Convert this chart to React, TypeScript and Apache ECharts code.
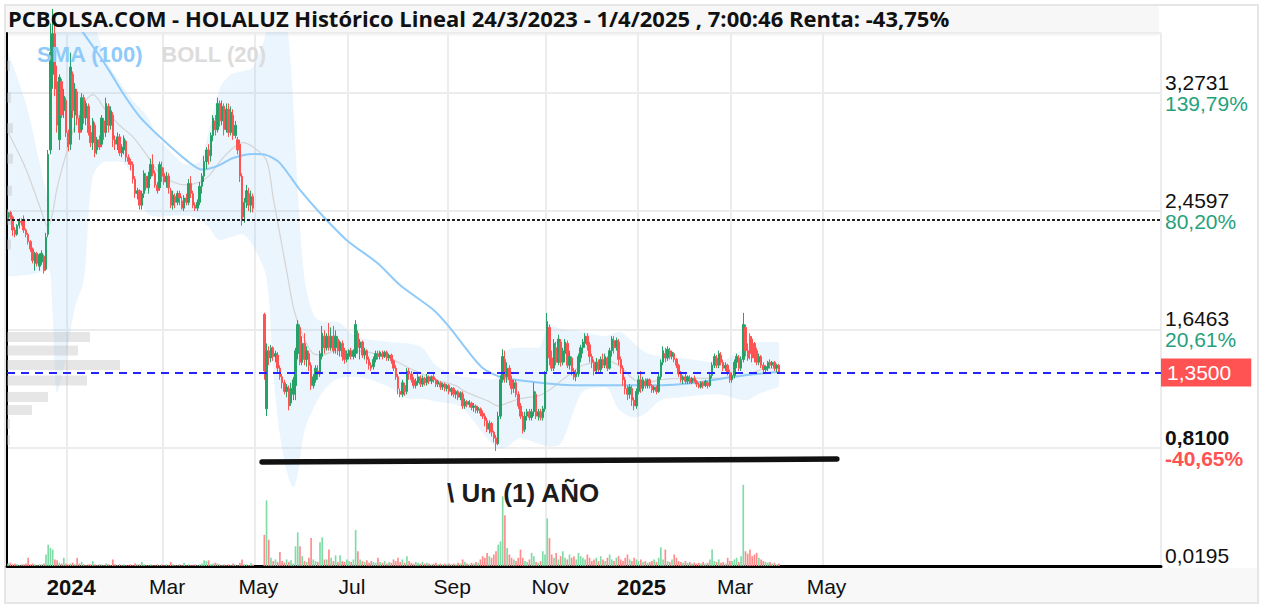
import React, { useEffect, useRef } from 'react';
import * as echarts from 'echarts';

// ---------- categories (trading days) ----------
const START_UTC = Date.UTC(2023, 10, 21);
const CATEGORY_COUNT = 518;
const LAST_LABEL_DATE = '2025-05-31';
const HOLIDAYS = ['2023-12-25', '2023-12-26', '2024-01-01', '2024-03-29', '2024-04-01', '2024-05-01',
  '2024-12-25', '2024-12-26', '2025-01-01', '2025-04-18', '2025-04-21', '2025-05-01', '2025-12-25', '2025-12-26'];
const MONTHS = ['Ene', 'Feb', 'Mar', 'Abr', 'May', 'Jun', 'Jul', 'Ago', 'Sep', 'Oct', 'Nov', 'Dic'];

// ---------- daily candles [open, close, low, high] ----------
const ohlcNovDec2023 = [
  [2.41,2.45,2.39,2.47],[2.45,2.42,2.40,2.46],[2.42,2.33,2.29,2.43],[2.33,2.30,2.28,2.35],[2.30,2.36,2.29,2.37],
  [2.36,2.39,2.34,2.41],[2.39,2.38,2.36,2.41],[2.40,2.33,2.31,2.43],[2.33,2.30,2.28,2.34],[2.30,2.25,2.23,2.31],
  [2.25,2.20,2.18,2.26],[2.20,2.12,2.10,2.21],[2.10,2.17,2.05,2.18],[2.17,2.10,2.08,2.18],[2.08,2.16,2.05,2.17],
  [2.11,2.17,2.09,2.19],[2.15,2.05,2.03,2.16],[2.06,2.28,2.05,2.31],[2.30,2.85,2.28,2.88],[2.88,3.55,2.85,3.75],
  [3.40,3.68,3.30,3.85],[3.68,3.30,3.25,3.80],[3.35,3.05,3.00,3.46],[2.95,3.38,2.88,3.40],[3.35,3.12,3.10,3.37],
  [3.15,3.25,3.10,3.30],[3.22,3.00,2.97,3.24],
];
const ohlcJan2024 = [
  [3.00,2.90,2.87,3.02],[2.92,3.45,2.88,3.55],[3.40,3.15,3.10,3.42],[3.12,3.30,3.00,3.34],[3.28,3.10,3.05,3.30],
  [3.10,3.00,2.95,3.12],[3.02,3.24,3.00,3.27],[3.24,3.10,3.06,3.26],[3.10,3.20,3.05,3.22],[3.18,3.00,2.98,3.20],
  [3.00,2.93,2.90,3.05],[2.93,3.08,2.88,3.10],[3.05,2.86,2.83,3.07],[2.88,2.95,2.85,2.97],[2.95,2.90,2.88,2.98],
  [2.92,3.10,2.90,3.12],[3.08,3.00,2.95,3.10],[3.00,3.20,2.97,3.24],[3.18,3.05,3.00,3.20],[3.05,3.15,3.02,3.18],
  [3.12,2.95,2.90,3.14],[2.95,2.92,2.88,2.98],
];
const ohlcFeb2024 = [
  [2.92,2.97,2.88,3.00],[2.97,2.86,2.84,2.99],[2.86,2.90,2.83,2.92],[2.88,2.96,2.85,2.98],[2.94,2.83,2.80,2.95],
  [2.83,2.80,2.78,2.85],[2.80,2.78,2.74,2.82],[2.78,2.68,2.65,2.80],[2.68,2.58,2.55,2.70],[2.58,2.60,2.54,2.62],
  [2.60,2.50,2.47,2.61],[2.50,2.58,2.47,2.60],[2.58,2.72,2.55,2.74],[2.70,2.62,2.60,2.72],[2.62,2.70,2.58,2.73],
  [2.70,2.78,2.68,2.82],[2.78,2.72,2.70,2.85],[2.72,2.64,2.62,2.74],[2.64,2.60,2.58,2.66],[2.62,2.78,2.60,2.80],
  [2.76,2.70,2.66,2.80],
];
const ohlcMar2024 = [
  [2.72,2.66,2.64,2.76],[2.66,2.70,2.62,2.73],[2.70,2.62,2.58,2.72],[2.60,2.50,2.48,2.62],[2.50,2.57,2.47,2.60],
  [2.56,2.52,2.48,2.58],[2.52,2.58,2.50,2.60],[2.58,2.55,2.50,2.60],[2.53,2.48,2.47,2.56],[2.48,2.55,2.46,2.57],
  [2.55,2.52,2.50,2.58],[2.52,2.65,2.50,2.68],[2.65,2.58,2.55,2.70],[2.58,2.50,2.48,2.60],[2.50,2.48,2.46,2.52],
  [2.48,2.52,2.46,2.54],[2.52,2.63,2.50,2.66],[2.63,2.70,2.58,2.72],[2.70,2.80,2.66,2.84],[2.80,2.88,2.75,2.90],
];
const ohlcApr2024 = [
  [2.88,2.84,2.78,2.92],[2.84,2.98,2.80,3.00],[2.98,3.10,2.94,3.12],[3.08,3.02,2.98,3.12],[3.02,3.20,3.00,3.24],
  [3.20,3.08,3.04,3.22],[3.08,3.18,3.05,3.22],[3.18,3.02,2.98,3.20],[3.02,3.16,3.00,3.20],[3.16,3.00,2.97,3.20],
  [3.00,3.14,2.98,3.18],[3.12,2.98,2.95,3.16],[2.98,3.05,2.96,3.08],[2.95,2.88,2.85,2.97],[2.92,2.70,2.66,2.95],
  [2.70,2.40,2.36,2.72],[2.42,2.52,2.38,2.55],[2.52,2.60,2.48,2.64],[2.58,2.50,2.46,2.62],[2.50,2.56,2.45,2.60],
  [2.56,2.48,2.45,2.58],
];
const ohlcMay2024 = [
  null, null, null, null,
  [1.75,1.36,1.30,1.76],[1.10,1.50,1.05,1.55],[1.50,1.45,1.40,1.53],[1.45,1.52,1.42,1.54],[1.52,1.46,1.43,1.53],
  [1.46,1.48,1.42,1.50],[1.47,1.38,1.35,1.49],[1.38,1.32,1.30,1.40],[1.32,1.28,1.24,1.34],[1.28,1.22,1.20,1.30],
  [1.22,1.25,1.18,1.27],[1.24,1.12,1.09,1.26],[1.14,1.24,1.12,1.28],[1.20,1.30,1.16,1.32],[1.26,1.50,1.16,1.52],
  [1.48,1.68,1.44,1.71],[1.66,1.42,1.40,1.68],[1.42,1.55,1.40,1.60],
];
const ohlcJun2024 = [
  [1.55,1.44,1.40,1.62],[1.44,1.50,1.39,1.53],[1.48,1.40,1.36,1.50],[1.40,1.26,1.23,1.42],[1.26,1.32,1.24,1.34],
  [1.30,1.38,1.28,1.40],[1.36,1.34,1.30,1.40],[1.34,1.48,1.32,1.50],[1.46,1.62,1.44,1.67],[1.60,1.52,1.48,1.64],
  [1.52,1.60,1.50,1.62],[1.60,1.52,1.50,1.69],[1.52,1.60,1.50,1.66],[1.60,1.50,1.48,1.67],[1.52,1.60,1.48,1.64],
  [1.58,1.50,1.47,1.60],[1.50,1.56,1.46,1.57],[1.55,1.46,1.43,1.57],[1.50,1.44,1.41,1.52],[1.44,1.48,1.42,1.50],
];
const ohlcJul2024 = [
  [1.46,1.50,1.44,1.51],[1.50,1.46,1.44,1.52],[1.46,1.50,1.44,1.51],[1.48,1.68,1.45,1.71],[1.62,1.52,1.48,1.64],
  [1.52,1.56,1.44,1.58],[1.56,1.47,1.45,1.57],[1.47,1.50,1.44,1.52],[1.50,1.44,1.41,1.51],[1.44,1.40,1.37,1.46],
  [1.40,1.38,1.36,1.42],[1.39,1.44,1.37,1.46],[1.44,1.48,1.42,1.50],[1.48,1.46,1.44,1.50],[1.46,1.49,1.44,1.50],
  [1.48,1.46,1.44,1.50],[1.46,1.49,1.45,1.50],[1.49,1.45,1.43,1.50],[1.45,1.47,1.43,1.48],[1.47,1.43,1.41,1.48],
  [1.43,1.38,1.36,1.44],[1.38,1.32,1.30,1.40],[1.32,1.24,1.20,1.34],
];
const ohlcAug2024 = [
  [1.22,1.20,1.18,1.24],[1.20,1.28,1.18,1.30],[1.26,1.22,1.19,1.28],[1.22,1.36,1.20,1.38],[1.36,1.34,1.30,1.38],
  [1.34,1.30,1.28,1.36],[1.30,1.26,1.24,1.32],[1.26,1.29,1.24,1.31],[1.28,1.32,1.26,1.34],[1.32,1.27,1.25,1.33],
  [1.27,1.31,1.25,1.33],[1.31,1.28,1.26,1.32],[1.28,1.32,1.26,1.34],[1.32,1.29,1.27,1.33],[1.29,1.32,1.27,1.33],
  [1.32,1.30,1.28,1.34],[1.30,1.27,1.25,1.31],[1.27,1.29,1.25,1.30],[1.28,1.25,1.23,1.29],[1.25,1.27,1.23,1.28],
  [1.27,1.24,1.22,1.28],[1.24,1.26,1.22,1.27],
];
const ohlcSep2024 = [
  [1.26,1.22,1.20,1.27],[1.22,1.24,1.19,1.25],[1.24,1.20,1.18,1.25],[1.20,1.22,1.17,1.23],[1.22,1.18,1.16,1.23],
  [1.18,1.21,1.16,1.22],[1.20,1.12,1.10,1.22],[1.12,1.15,1.10,1.17],[1.15,1.13,1.11,1.16],[1.13,1.15,1.11,1.16],
  [1.14,1.11,1.09,1.15],[1.11,1.12,1.08,1.14],[1.12,1.09,1.07,1.13],[1.09,1.11,1.07,1.12],[1.10,1.07,1.05,1.11],
  [1.07,1.05,1.03,1.09],[1.05,1.02,0.98,1.07],[1.02,0.96,0.94,1.04],[0.96,1.00,0.93,1.02],[1.00,0.94,0.91,1.01],
  [0.94,0.90,0.87,0.95],
];
const ohlcOct2024 = [
  [0.90,0.86,0.81,0.92],[0.86,1.05,0.85,1.08],[1.05,1.30,1.03,1.33],[1.30,1.46,1.28,1.51],[1.44,1.32,1.28,1.50],
  [1.32,1.38,1.28,1.42],[1.38,1.30,1.26,1.40],[1.30,1.24,1.20,1.33],[1.24,1.28,1.21,1.30],[1.28,1.20,1.18,1.30],
  [1.20,1.12,1.10,1.22],[1.12,1.05,1.03,1.14],[1.05,0.95,0.93,1.08],[0.96,1.05,0.94,1.08],[1.05,1.08,1.02,1.10],
  [1.08,1.04,1.02,1.10],[1.04,1.08,1.02,1.10],[1.08,1.22,1.05,1.28],[1.20,1.05,1.03,1.22],[1.05,1.08,1.02,1.10],
  [1.08,1.04,1.02,1.10],[1.04,1.10,1.02,1.12],[1.10,1.34,1.08,1.36],
];
const ohlcNov2024 = [
  [1.36,1.70,1.34,1.76],[1.66,1.45,1.40,1.68],[1.45,1.38,1.36,1.50],[1.38,1.55,1.36,1.58],[1.52,1.42,1.40,1.56],
  [1.42,1.58,1.40,1.61],[1.56,1.42,1.39,1.58],[1.42,1.50,1.40,1.52],[1.48,1.56,1.42,1.58],[1.55,1.40,1.38,1.57],
  [1.40,1.46,1.37,1.50],[1.45,1.36,1.33,1.46],[1.36,1.32,1.30,1.38],[1.32,1.35,1.29,1.37],[1.34,1.46,1.32,1.48],
  [1.45,1.52,1.42,1.54],[1.52,1.56,1.48,1.58],[1.55,1.60,1.52,1.62],[1.60,1.54,1.50,1.62],[1.54,1.46,1.42,1.56],
  [1.46,1.42,1.38,1.48],
];
const ohlcDec2024 = [
  [1.42,1.36,1.33,1.44],[1.36,1.42,1.34,1.45],[1.42,1.37,1.35,1.44],[1.37,1.44,1.35,1.46],[1.44,1.40,1.38,1.48],
  [1.40,1.46,1.38,1.48],[1.45,1.38,1.36,1.46],[1.38,1.50,1.37,1.52],[1.50,1.58,1.46,1.60],[1.57,1.52,1.48,1.60],
  [1.52,1.57,1.50,1.59],[1.56,1.44,1.40,1.58],[1.44,1.38,1.34,1.46],[1.38,1.30,1.26,1.40],[1.30,1.24,1.20,1.32],
  [1.24,1.20,1.16,1.26],[1.20,1.25,1.17,1.27],[1.24,1.16,1.12,1.26],[1.16,1.12,1.09,1.18],[1.12,1.22,1.10,1.24],
];
const ohlcJan2025 = [
  [1.22,1.30,1.20,1.33],[1.30,1.24,1.21,1.36],[1.24,1.30,1.22,1.32],[1.29,1.26,1.24,1.31],[1.26,1.30,1.24,1.31],
  [1.30,1.26,1.24,1.31],[1.26,1.23,1.21,1.27],[1.23,1.25,1.21,1.26],[1.25,1.22,1.20,1.26],[1.22,1.32,1.21,1.34],
  [1.32,1.42,1.30,1.44],[1.42,1.50,1.40,1.53],[1.48,1.45,1.42,1.52],[1.45,1.51,1.43,1.53],[1.50,1.46,1.44,1.52],
  [1.46,1.49,1.44,1.50],[1.48,1.44,1.42,1.49],[1.44,1.40,1.38,1.45],[1.40,1.34,1.32,1.41],[1.34,1.30,1.28,1.36],
  [1.30,1.32,1.27,1.33],[1.32,1.29,1.27,1.34],
];
const ohlcFeb2025 = [
  [1.29,1.32,1.27,1.33],[1.31,1.28,1.27,1.33],[1.28,1.31,1.27,1.32],[1.31,1.29,1.28,1.33],[1.29,1.27,1.25,1.30],
  [1.27,1.25,1.24,1.28],[1.25,1.28,1.24,1.29],[1.28,1.26,1.24,1.29],[1.26,1.29,1.25,1.30],[1.28,1.26,1.24,1.29],
  [1.26,1.33,1.25,1.35],[1.33,1.40,1.31,1.42],[1.40,1.46,1.38,1.48],[1.45,1.40,1.38,1.47],[1.40,1.48,1.38,1.50],
  [1.47,1.42,1.40,1.49],[1.42,1.38,1.36,1.44],[1.38,1.40,1.36,1.42],[1.40,1.35,1.33,1.41],[1.35,1.30,1.28,1.37],
];
const ohlcMarApr2025 = [
  [1.30,1.33,1.28,1.35],[1.33,1.42,1.31,1.44],[1.42,1.46,1.38,1.48],[1.45,1.38,1.36,1.47],[1.38,1.44,1.36,1.46],
  [1.44,1.68,1.42,1.76],[1.66,1.50,1.46,1.68],[1.50,1.45,1.43,1.55],[1.60,1.48,1.44,1.62],[1.58,1.45,1.42,1.60],
  [1.55,1.45,1.42,1.56],[1.50,1.42,1.40,1.52],[1.42,1.46,1.40,1.48],[1.46,1.40,1.38,1.47],[1.40,1.37,1.35,1.42],
  [1.37,1.39,1.35,1.40],[1.38,1.42,1.36,1.43],[1.42,1.40,1.38,1.44],[1.40,1.42,1.38,1.43],[1.42,1.38,1.36,1.43],
  [1.38,1.40,1.35,1.41],[1.40,1.35,1.34,1.41],
];

// ---------- daily volume (thousands) ----------
const volNovDec2023 = [3,4,2,3,2,1,2,2,3,10,2,3,2,1,2,2,3,14,26,22,20,8,7,4,3,10,3];
const volJan2024 = [2,3,4,2,10,3,5,2,1,2,2,6,2,1,2,2,1,3,2,1,8,2];
const volFeb2024 = [1,2,1,2,1,1,2,1,3,2,2,5,2,1,1,2,1,1,2,1,2];
const volMar2024 = [1,2,1,5,2,1,1,2,1,4,1,2,1,1,2,1,2,3,7,6];
const volApr2024 = [7,2,3,4,3,2,1,2,1,2,1,3,2,1,4,8,2,2,1,4,2];
const volMay2024 = [null,null,null,null,38,80,32,10,6,8,5,17,6,4,8,5,7,3,24,41,24,12];
const volJun2024 = [6,5,10,34,8,6,5,29,35,8,8,20,10,6,13,5,13,6,5,8];
const volJul2024 = [6,5,8,44,18,8,6,5,7,4,6,5,4,10,5,4,6,3,5,4,8,6,10];
const volAug2024 = [5,8,4,12,6,4,3,5,4,3,5,3,4,3,2,3,4,2,3,2,3,2];
const volSep2024 = [3,2,3,2,4,3,8,5,3,2,4,3,5,4,8,12,10,16,12,10,14];
const volOct2024 = [18,26,30,85,62,22,14,10,8,6,10,20,10,6,5,8,16,12,5,4,6,18,14];
const volNov2024 = [58,34,14,10,16,8,12,18,10,8,14,10,12,8,16,12,10,8,14,10,6];
const volDec2024 = [8,10,6,12,8,6,10,14,8,6,10,12,8,6,10,14,8,6,10,8];
const volJan2025 = [6,8,5,6,4,5,6,8,5,10,23,8,20,6,5,8,14,10,6,5,4,6];
const volFeb2025 = [4,5,3,4,3,4,3,5,3,4,8,20,6,5,8,4,5,3,10,6];
const volMarApr2025 = [6,8,10,5,12,99,18,15,20,12,14,16,10,8,6,5,4,5,3,4,2,3];

// ---------- SMA(100), read at sample days ----------
const smaIdx = [0, 15, 28, 34, 40, 46, 52, 59, 66, 71, 80, 87, 94, 101, 110, 116, 122, 131, 140, 152, 166, 176, 191, 198, 206, 213, 221, 236, 251, 266, 281, 296, 311, 325, 341, 346];
const smaVal = [4.40, 4.10, 3.82, 3.68, 3.55, 3.41, 3.26, 3.11, 3.00, 2.93, 2.81, 2.745, 2.77, 2.825, 2.852, 2.845, 2.79, 2.605, 2.447, 2.26, 2.10, 1.95, 1.78, 1.663, 1.505, 1.381, 1.319, 1.285, 1.264, 1.262, 1.262, 1.264, 1.285, 1.319, 1.347, 1.353];

// ---------- BOLL(20), read at sample days ----------
const bollIdx = [0, 8, 14, 18, 20, 22, 26, 30, 34, 38, 44, 50, 56, 62, 68, 74, 80, 86, 90, 95, 100, 105, 110, 116, 119, 122, 125, 128, 130, 133, 137, 141, 147, 156, 171, 180, 186, 192, 201, 205, 216, 220, 224, 230, 238, 243, 248, 254, 258, 268, 274, 281, 286, 293, 302, 318, 331, 338, 346];
const bollUp = [3.55, 3.20, 2.80, 2.55, 3.20, 4.20, 4.40, 4.30, 4.10, 3.80, 3.50, 3.35, 3.22, 3.12, 2.95, 2.85, 2.78, 2.80, 3.00, 3.30, 3.40, 3.42, 3.45, 3.70, 4.10, 4.10, 3.80, 3.20, 2.60, 2.00, 1.75, 1.70, 1.70, 1.60, 1.56, 1.55, 1.52, 1.40, 1.33, 1.32, 1.30, 1.32, 1.50, 1.52, 1.52, 1.68, 1.65, 1.64, 1.63, 1.60, 1.63, 1.55, 1.49, 1.46, 1.45, 1.42, 1.52, 1.56, 1.56];
const bollLow = [2.01, 2.02, 2.04, 2.07, 1.75, 1.21, 1.45, 1.80, 1.99, 2.70, 2.80, 2.80, 2.70, 2.45, 2.42, 2.43, 2.43, 2.40, 2.35, 2.26, 2.28, 2.30, 2.22, 2.00, 1.35, 0.92, 0.68, 0.56, 0.65, 0.95, 1.10, 1.21, 1.30, 1.32, 1.25, 1.17, 1.17, 1.15, 1.13, 1.09, 0.88, 0.83, 0.84, 0.90, 0.86, 0.84, 0.86, 1.09, 1.22, 1.25, 1.10, 1.04, 1.07, 1.16, 1.18, 1.20, 1.16, 1.21, 1.25];
const bollMid = [3.00, 2.75, 2.50, 2.35, 2.45, 2.62, 2.85, 3.05, 3.20, 3.26, 3.15, 3.05, 2.97, 2.85, 2.72, 2.66, 2.64, 2.66, 2.70, 2.80, 2.88, 2.93, 2.90, 2.81, 2.55, 2.30, 2.05, 1.80, 1.70, 1.58, 1.48, 1.47, 1.50, 1.50, 1.45, 1.38, 1.34, 1.30, 1.26, 1.22, 1.15, 1.12, 1.14, 1.17, 1.19, 1.23, 1.29, 1.36, 1.40, 1.43, 1.40, 1.30, 1.28, 1.30, 1.31, 1.31, 1.33, 1.37, 1.38];

// ---------- volume profile (price level, width) ----------
const profilePrice = [3.46, 3.24, 3.03, 2.82, 2.60, 2.40, 2.23, 1.594, 1.501, 1.402, 1.295, 1.182, 1.092, 0.996, 0.886];
const profileWidth = [3, 4, 6, 6, 5, 4, 4, 83, 71, 113, 80, 41, 25, 3, 3];

// ---------- axis labels ----------
const yTickValues = ['0,0195', '0,8100', '1,6463', '2,4597', '3,2731'];
const yTickPcts = ['', '-40,65%', '20,61%', '80,20%', '139,79%'];
const Y_MIN = 0.0195;
const Y_STEP = 0.8134;
const Y_MAX = 3.6844;
const START_PRICE = 2.40;
const LAST_PRICE = 1.35;
const LAST_LABEL = '1,3500';
const TREND_LINE = [[114, 0.735], [372, 0.755]];

const TITLE = 'PCBOLSA.COM - HOLALUZ Histórico Lineal 24/3/2023 - 1/4/2025 , 7:00:46 Renta: -43,75%';
const NOTE = '\\ Un (1) AÑO';

const GREEN = '#26a269';
const RED = '#ff5252';
const VOL_UP = '#7fdca6';
const VOL_DOWN = '#ff8c8c';
const FONT = '"Liberation Sans", Arial, sans-serif';

function buildDates(): string[] {
  const out: string[] = [];
  const hol = new Set(HOLIDAYS);
  let t = START_UTC;
  while (out.length < CATEGORY_COUNT) {
    const d = new Date(t);
    const wd = d.getUTCDay();
    const s = d.toISOString().slice(0, 10);
    if (wd !== 0 && wd !== 6 && !hol.has(s)) out.push(s);
    t += 86400000;
  }
  return out;
}

export default function App() {
  const ref = useRef<HTMLDivElement>(null);
  useEffect(() => {
    if (!ref.current) return;
    const chart = echarts.init(ref.current, null, { renderer: 'svg' });
    const dates = buildDates();
    const labelIdx = new Set<number>();
    dates.forEach((d, i) => {
      if (i === 0) return;
      const m = +d.slice(5, 7);
      if (d.slice(5, 7) !== dates[i - 1].slice(5, 7) && m % 2 === 1 && d <= LAST_LABEL_DATE) labelIdx.add(i);
    });
    const showAt = (i: number) => labelIdx.has(i);

    const ohlc: (number[] | null)[] = [
      ...ohlcNovDec2023, ...ohlcJan2024, ...ohlcFeb2024, ...ohlcMar2024, ...ohlcApr2024, ...ohlcMay2024,
      ...ohlcJun2024, ...ohlcJul2024, ...ohlcAug2024, ...ohlcSep2024, ...ohlcOct2024, ...ohlcNov2024,
      ...ohlcDec2024, ...ohlcJan2025, ...ohlcFeb2025, ...ohlcMarApr2025,
    ];
    const vols: (number | null)[] = [
      ...volNovDec2023, ...volJan2024, ...volFeb2024, ...volMar2024, ...volApr2024, ...volMay2024,
      ...volJun2024, ...volJul2024, ...volAug2024, ...volSep2024, ...volOct2024, ...volNov2024,
      ...volDec2024, ...volJan2025, ...volFeb2025, ...volMarApr2025,
    ];
    const candleData = ohlc.map((d) => (d ? d : '-'));
    const volData = vols.map((v, i) => {
      const d = ohlc[i];
      if (v == null || !d) return '-';
      return { value: v, itemStyle: { color: d[1] >= d[0] ? VOL_UP : VOL_DOWN } };
    });
    const sma = smaIdx.map((x, k) => [x, smaVal[k]]);
    const low = bollIdx.map((x, k) => [x, bollLow[k]]);
    const band = bollIdx.map((x, k) => [x, +(bollUp[k] - bollLow[k]).toFixed(3)]);
    const mid = bollIdx.map((x, k) => [x, bollMid[k]]);
    const profile = profilePrice.map((p, k) => [profileWidth[k], p]);

    const option: any = {
      animation: false,
      backgroundColor: 'transparent',
      legend: {
        left: 26, top: 38, itemWidth: 0, itemHeight: 0, itemGap: 12, selectedMode: false,
        textStyle: { fontSize: 22, fontWeight: 'bold', fontFamily: FONT },
        data: [
          { name: 'SMA (100)', textStyle: { color: '#90caf9' } },
          { name: 'BOLL (20)', textStyle: { color: '#dcdcdc' } },
        ],
      },
      grid: { left: 7, top: 33, width: 1154, height: 533, containLabel: false },
      xAxis: [
        {
          type: 'category', data: dates, boundaryGap: true,
          axisLine: { onZero: false, lineStyle: { color: '#000', width: 3 } },
          axisTick: { show: false },
          axisLabel: {
            interval: (i: number) => showAt(i),
            formatter: (v: string) => {
              const m = +v.slice(5, 7);
              return m === 1 ? `{b|${v.slice(0, 4)}}` : MONTHS[m - 1];
            },
            fontSize: 21, color: '#111', fontFamily: FONT, margin: 10, padding: [0, 0, 0, 6],
            rich: { b: { fontSize: 22, fontWeight: 'bold', color: '#111', fontFamily: FONT } },
          },
          splitLine: { show: true, interval: (i: number) => showAt(i), lineStyle: { color: '#ececec', width: 2 } },
        },
        { type: 'value', min: 0, max: 1154, show: false, position: 'top' },
      ],
      yAxis: [
        {
          type: 'value', position: 'right', min: Y_MIN, max: Y_MAX, interval: Y_STEP, scale: true,
          axisLine: { show: true, lineStyle: { color: '#000', width: 2 } },
          axisTick: { show: false },
          splitLine: { show: true, lineStyle: { color: '#ececec', width: 2 } },
          axisLabel: {
            showMinLabel: true, margin: 4,
            formatter: (_v: number, i: number) => {
              const val = yTickValues[i] ?? '';
              const pct = yTickPcts[i] ?? '';
              if (i === 1) return `{vb|${val}}\n{rb|${pct}}`;
              if (i === 0) return `{v|${val}}\n{v| }`;
              return `{v|${val}}\n{g|${pct}}`;
            },
            rich: {
              v: { fontSize: 21, lineHeight: 21, color: '#111', fontFamily: FONT },
              vb: { fontSize: 21, lineHeight: 21, color: '#111', fontFamily: FONT, fontWeight: 'bold' },
              g: { fontSize: 21, lineHeight: 21, color: '#26a17b', fontFamily: FONT },
              rb: { fontSize: 21, lineHeight: 21, color: RED, fontFamily: FONT, fontWeight: 'bold' },
            },
          },
        },
        { type: 'value', min: 0, max: 650, show: false, splitLine: { show: false } },
      ],
      graphic: [
        { type: 'text', left: 8, top: 7, z: 10, style: { text: TITLE, font: 'bold 22px "Open Sans"', fill: '#111' } },
        { type: 'text', left: 447, top: 480, z: 10, style: { text: NOTE, font: 'bold 26px "Liberation Sans"', fill: '#1c1c1c' } },
      ],
      series: [
        {
          name: 'BOLL (20)', type: 'line', data: low, stack: 'boll', smooth: 0.3, symbol: 'none',
          lineStyle: { opacity: 0 }, z: 1, silent: true,
        },
        {
          name: 'BOLL (20)', type: 'line', data: band, stack: 'boll', smooth: 0.3, symbol: 'none',
          lineStyle: { opacity: 0 }, areaStyle: { color: 'rgba(144,202,249,0.27)' }, z: 1, silent: true,
        },
        {
          name: 'BOLL (20)', type: 'line', data: mid, smooth: 0.3, symbol: 'none',
          lineStyle: { color: '#d4d4d4', width: 1.2 }, z: 1, silent: true,
        },
        {
          name: 'Perfil', type: 'custom', xAxisIndex: 1, yAxisIndex: 0, data: profile, z: 1, silent: true,
          renderItem: (_p: any, api: any) => {
            const w = api.value(0);
            const p = api.value(1);
            const a = api.coord([0, p]);
            const b = api.coord([w, p]);
            const h = api.size([0, 0.068])[1];
            return { type: 'rect', shape: { x: a[0], y: a[1] - h / 2, width: b[0] - a[0], height: h }, style: { fill: 'rgba(190,190,190,0.38)' } };
          },
        },
        {
          name: 'SMA (100)', type: 'line', data: sma, smooth: 0.25, symbol: 'none',
          lineStyle: { color: '#90caf9', width: 2 }, z: 2, silent: true,
        },
        {
          name: 'Volumen', type: 'bar', xAxisIndex: 0, yAxisIndex: 1, data: volData, barWidth: '75%', z: 2, silent: true,
        },
        {
          name: 'HOLALUZ', type: 'candlestick', data: candleData, barWidth: '88%', z: 3,
          itemStyle: { color: GREEN, color0: RED, borderColor: GREEN, borderColor0: RED, borderWidth: 1 },
          markLine: {
            silent: true, symbol: 'none', animation: false,
            data: [
              { yAxis: START_PRICE, lineStyle: { color: '#222', type: [3, 2], width: 2 }, label: { show: false } },
              {
                yAxis: LAST_PRICE, lineStyle: { color: '#2424ff', type: [8, 6], width: 2 },
                label: {
                  show: true, position: 'end', formatter: LAST_LABEL, distance: 0,
                  color: '#fff', backgroundColor: RED, fontSize: 21, fontFamily: FONT, padding: [4, 20, 3, 6],
                },
              },
              [
                { coord: TREND_LINE[0], lineStyle: { color: '#111', width: 5.5, type: 'solid', cap: 'round' }, label: { show: false } },
                { coord: TREND_LINE[1] },
              ],
            ],
          },
        },
      ],
    };
    chart.setOption(option);
    return () => chart.dispose();
  }, []);

  return (
    <div style={{ position: 'absolute', left: 0, top: 0, width: 1264, height: 608, background: '#fff' }}>
      <div style={{ position: 'absolute', left: 4, top: 4, width: 1255, height: 600, border: '2px solid #e6e6e6', boxSizing: 'border-box' }} />
      <div style={{ position: 'absolute', left: 6, top: 6, width: 1153, height: 30, background: '#f7f7f7' }} />
      <div style={{ position: 'absolute', left: 6, top: 568, width: 1251, height: 34, background: '#f8f8f8' }} />
      <div ref={ref} style={{ position: 'absolute', left: 0, top: 0, width: 1264, height: 608 }} />
    </div>
  );
}
